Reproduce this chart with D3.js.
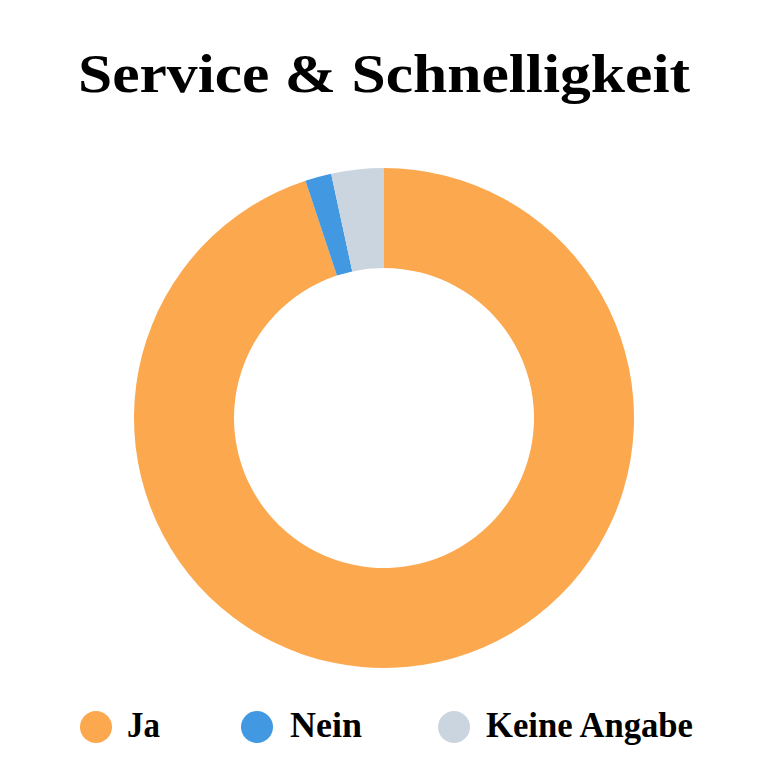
<!DOCTYPE html>
<html><head><meta charset="utf-8">
<script src="https://cdn.jsdelivr.net/npm/d3@7"></script>
<style>html,body{margin:0;padding:0;background:#fff;}</style>
</head><body>
<svg id="chart" width="768" height="768"></svg>
<script>
const title = "Service & Schnelligkeit";
const categories = ["Ja", "Nein", "Keine Angabe"];
const values = [56, 1, 2];
const colors = ["#FBA84F", "#4299E1", "#CBD5E0"];

const svg = d3.select("#chart");
const font = "'Liberation Serif', 'Times New Roman', serif";

svg.append("text")
  .attr("x", 384).attr("y", 92)
  .attr("text-anchor", "middle")
  .attr("font-family", font).attr("font-weight", "bold")
  .attr("font-size", 54).attr("fill", "#000")
  .attr("textLength", 612).attr("lengthAdjust", "spacingAndGlyphs")
  .text(title);

const cx = 384, cy = 418, rOuter = 250, rInner = 150;
const pie = d3.pie().sort(null).value(d => d.v);
const arc = d3.arc().innerRadius(rInner).outerRadius(rOuter);
const data = categories.map((c, i) => ({c, v: values[i], col: colors[i]}));
svg.append("g").attr("transform", `translate(${cx},${cy})`)
  .selectAll("path").data(pie(data)).join("path")
  .attr("d", arc).attr("fill", d => d.data.col);

// legend
const legendX = [96, 257, 454];
const textX = [127, 290, 486];
const textW = [33, 72, 207];
const lg = svg.append("g");
data.forEach((d, i) => {
  lg.append("circle").attr("cx", legendX[i]).attr("cy", 727).attr("r", 16).attr("fill", d.col);
  lg.append("text").attr("x", textX[i]).attr("y", 737)
    .attr("font-family", font).attr("font-weight", "bold").attr("font-size", 35)
    .attr("fill", "#000")
    .attr("textLength", textW[i]).attr("lengthAdjust", "spacingAndGlyphs")
    .text(d.c);
});
</script>
</body></html>
